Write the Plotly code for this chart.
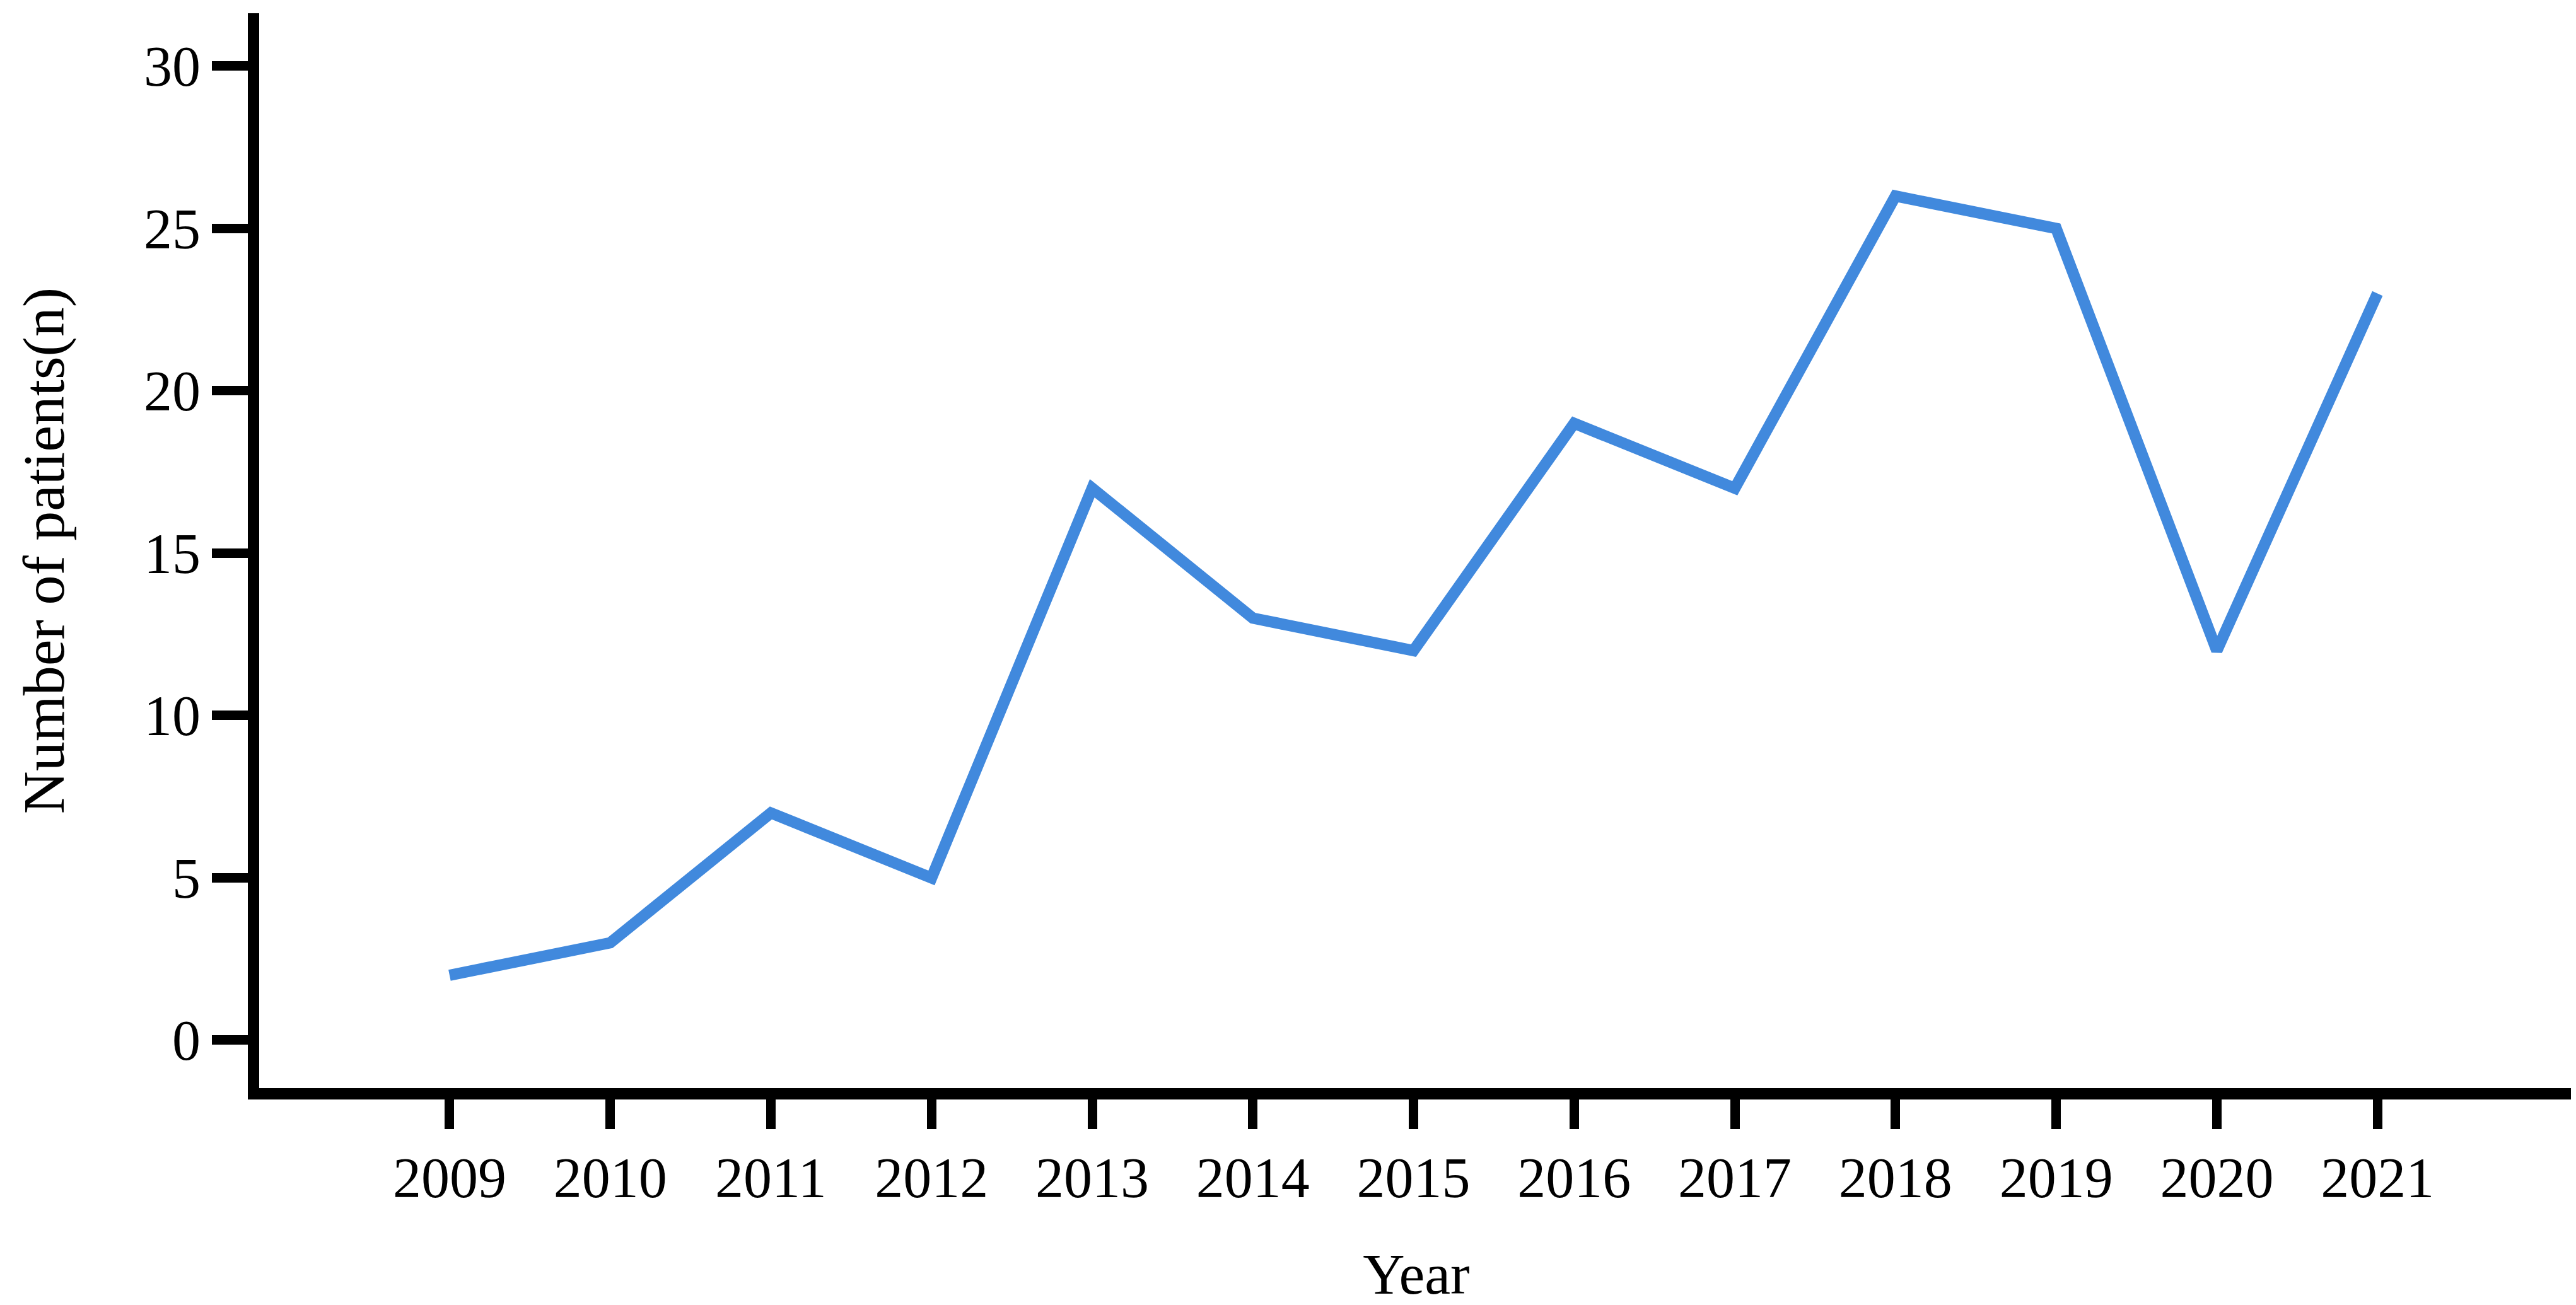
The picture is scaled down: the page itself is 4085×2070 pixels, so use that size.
import plotly.graph_objects as go

years = [2009, 2010, 2011, 2012, 2013, 2014, 2015, 2016, 2017, 2018, 2019, 2020, 2021]
patients = [2, 3, 7, 5, 17, 13, 12, 19, 17, 26, 25, 12, 23]
y_ticks = [0, 5, 10, 15, 20, 25, 30]

serif = 'Liberation Serif, Times New Roman, serif'

fig = go.Figure()

fig.add_trace(go.Scatter(
    x=years,
    y=patients,
    mode='lines',
    line=dict(color='#4189DD', width=18),
    showlegend=False
))

fig.update_layout(
    width=4085,
    height=2070,
    paper_bgcolor='white',
    plot_bgcolor='white',
    margin=dict(l=403, r=12, t=13, b=352),
    font=dict(family=serif, color='black', size=90),
    xaxis=dict(
        range=[2007.815, 2022.22],
        tickmode='array',
        tickvals=years,
        ticktext=[str(y) for y in years],
        showgrid=False,
        zeroline=False,
        showline=True,
        linecolor='black',
        linewidth=18,
        ticks='outside',
        ticklen=47,
        tickwidth=15,
        tickcolor='black',
        tickfont=dict(size=90),
        title=dict(text='Year', font=dict(size=92), standoff=79)
    ),
    yaxis=dict(
        range=[-1.476, 31.63],
        tickmode='array',
        tickvals=y_ticks,
        showgrid=False,
        zeroline=False,
        showline=True,
        linecolor='black',
        linewidth=18,
        ticks='outside',
        ticklen=57,
        tickwidth=15,
        tickcolor='black',
        tickfont=dict(size=90),
        title=dict(text='Number of patients(n)', font=dict(size=94), standoff=103)
    )
)

fig.write_html("out.html")
